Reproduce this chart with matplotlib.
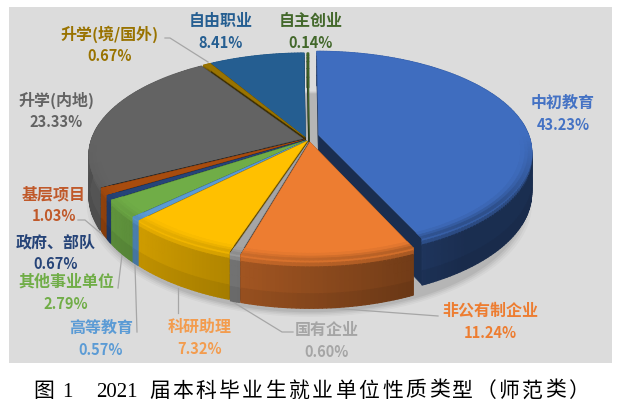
import numpy as np
from matplotlib import pyplot as plt
from matplotlib.collections import PolyCollection
from matplotlib.colors import to_rgb

plt.rcParams['font.family'] = ['Noto Sans CJK SC', 'DejaVu Sans']

# clockwise from 12 o'clock
categories = ['中初教育', '非公有制企业', '国有企业', '科研助理', '高等教育', '其他事业单位',
              '政府、部队', '基层项目', '升学(内地)', '升学(境/国外)', '自由职业', '自主创业']
shares = [43.23, 11.24, 0.60, 7.32, 0.57, 2.79, 0.67, 1.03, 23.33, 0.67, 8.41, 0.14]

slice_colors = ['#3f6dbf', '#ed7d31', '#a5a5a5', '#ffc000', '#5b9bd5', '#70ad47',
                '#264478', '#a84c0e', '#636363', '#997300', '#255e91', '#43682b']
label_colors = ['#4472c4', '#ed7d31', '#a5a5a5', '#f39c4e', '#5b9bd5', '#70ad47',
                '#264478', '#c0592a', '#636363', '#997300', '#255e91', '#43682b']

# how far each slice is pulled out, in pie radii
shift_u = [0.060, 0.018, 0.012, 0.006, 0.002, 0.000, -0.003, -0.006, -0.014, -0.004, -0.002, 0.015]
shift_v = [-0.030, 0.040, 0.040, 0.030, 0.028, 0.026, 0.022, 0.016, 0.006, -0.006, -0.006, -0.006]

label_pos = [(563, 103), (490, 311), (327, 330), (200, 327), (101, 328), (66, 282),
             (56, 242), (54, 194), (56, 100), (110, 34), (221, 21), (311, 21)]

leaders = [
    [(165, 38), (170, 38), (208, 62)],
    [(78, 220), (85, 220), (104, 236)],
    [(118, 288), (122, 255)],
    [(137, 332), (135, 265)],
    [(178, 313), (178, 288)],
    [(293, 332), (282, 332), (233, 302)],
    [(438, 316), (330, 308)],
]

CX, CY = 306, 138
RX, RY = 211, 98
PERSP = 0.16
DEPTH = 40


def project(u, v, drop=0.0):
    p = 1 / (1 - PERSP * v)
    return CX + RX * u * p, CY + (RY * v + drop) * p


def mix(a, b, t):
    return tuple(a[i] * (1 - t) + b[i] * t for i in range(3))


def wall_shade(angle):
    # right side of the pie is in shade, left side catches the light
    return np.clip(0.6 - 0.3 * np.sin(angle), 0.42, 0.85)


def outer_wall(ax, theta, u0, v0, rgb, zorder):
    polys, cols = [], []
    steps = [0, 0.06, 0.14, 0.25, 0.45, 0.7, 1.0]
    for a, b in zip(theta[:-1], theta[1:]):
        wall = tuple(c * wall_shade((a + b) / 2) for c in rgb)
        for s0, s1 in zip(steps[:-1], steps[1:]):
            ua, va = u0 + np.sin(a), v0 - np.cos(a)
            ub, vb = u0 + np.sin(b), v0 - np.cos(b)
            polys.append([project(ua, va, DEPTH * s0), project(ub, vb, DEPTH * s0),
                          project(ub, vb, DEPTH * s1), project(ua, va, DEPTH * s1)])
            t = min(1, s1 / 0.25)
            col = mix(rgb, wall, t)
            if s1 > 0.7:
                col = tuple(c * 0.93 for c in col)
            cols.append(col)
    # thick edges hide the seams between the little quads
    ax.add_collection(PolyCollection(polys, facecolors=cols, edgecolors=cols,
                                     linewidths=0.9, zorder=zorder))


def rim_band(ax, theta, u0, v0, rgb, zorder):
    # darker bevel just inside the front edge of the top face, fading out towards the sides
    polys, cols = [], []
    radii = [0.95, 0.97, 0.985, 1.0]
    for a, b in zip(theta[:-1], theta[1:]):
        front = -np.cos((a + b) / 2)
        if front <= 0:
            continue
        wall = tuple(c * wall_shade(a) for c in rgb)
        for i in range(3):
            r0, r1 = radii[i], radii[i + 1]
            polys.append([project(u0 + r0 * np.sin(a), v0 - r0 * np.cos(a)),
                          project(u0 + r0 * np.sin(b), v0 - r0 * np.cos(b)),
                          project(u0 + r1 * np.sin(b), v0 - r1 * np.cos(b)),
                          project(u0 + r1 * np.sin(a), v0 - r1 * np.cos(a))])
            cols.append(mix(rgb, wall, (i + 0.5) / 3 * 0.55 * min(1, front * 1.5)))
    if polys:
        ax.add_collection(PolyCollection(polys, facecolors=cols, edgecolors=cols,
                                         linewidths=0.5, zorder=zorder))


fig = plt.figure(figsize=(6.21, 4.11), dpi=100)
ax = fig.add_axes([0, 0, 1, 1])
ax.set_xlim(0, 621)
ax.set_ylim(411, 0)
ax.axis('off')

ax.fill([9, 612, 612, 9], [7, 7, 363, 363], color='#dcdcdc', lw=0, zorder=0)

# soft shadow under the pie
ring = np.linspace(0, 2 * np.pi, 200)
for grow, alpha in zip([1.035, 1.025, 1.015, 1.005], [0.03, 0.04, 0.05, 0.06]):
    xy = [project(0.015 + grow * np.sin(a), 0.03 + grow * np.cos(a), DEPTH + 4) for a in ring]
    ax.fill(*zip(*xy), color='black', alpha=alpha, lw=0, zorder=1)

for path in leaders:
    ax.plot(*zip(*path), color='#a6a6a6', lw=0.9, zorder=2)

edges = np.radians(np.cumsum([0] + shares) / sum(shares) * 360)
mids = (edges[:-1] + edges[1:]) / 2

# back slices first so the front ones paint over them
for n, i in enumerate(np.argsort(-np.cos(mids))):
    z = 3 + n
    rgb = to_rgb(slice_colors[i])
    u0, v0 = shift_u[i], shift_v[i]
    theta = np.linspace(edges[i], edges[i + 1], max(3, int(np.degrees(edges[i + 1] - edges[i])) + 2))
    face = tuple(c * 0.42 for c in rgb)
    for edge in (edges[i], edges[i + 1]):
        ue, ve = u0 + np.sin(edge), v0 - np.cos(edge)
        wall = [project(u0, v0), project(ue, ve), project(ue, ve, DEPTH), project(u0, v0, DEPTH)]
        ax.fill(*zip(*wall), color=face, lw=0.3, zorder=z)
    outer_wall(ax, theta, u0, v0, rgb, z + 0.1)
    top = [project(u0, v0)] + [project(u0 + np.sin(t), v0 - np.cos(t)) for t in theta]
    ax.fill(*zip(*top), color=rgb, lw=0.3, zorder=z + 0.2)
    rim_band(ax, theta, u0, v0, rgb, z + 0.3)

for name, share, (x, y), col in zip(categories, shares, label_pos, label_colors):
    ax.text(x, y, name, color=col, fontsize=11.5, fontweight='bold', ha='center', va='center', zorder=40)
    ax.text(x, y + 22, f'{share:.2f}%', color=col, fontsize=10.5, fontweight='bold',
            ha='center', va='center', zorder=40)

# caption is letter-spaced, so the characters go one by one
caption_font = ['Liberation Serif', 'Noto Sans CJK SC']
ax.text(33, 392, '图', fontsize=15, ha='left', va='center', family=caption_font, zorder=40)
ax.text(62, 392, '1', fontsize=15, ha='left', va='center', family=caption_font, zorder=40)
ax.text(96, 392, '2021', fontsize=15, ha='left', va='center', family=caption_font, zorder=40)
caption_tail = '届本科毕业生就业单位性质类型（师范类）'
for k, ch in enumerate(caption_tail):
    ax.text(149 + k * 23.3, 392, ch, fontsize=15, ha='left', va='center',
            family=caption_font, zorder=40)

fig.savefig('out.png', dpi=100)
